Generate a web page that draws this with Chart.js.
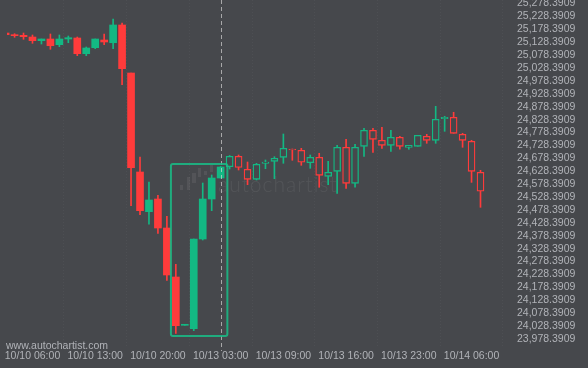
<!DOCTYPE html>
<html>
<head>
<meta charset="utf-8">
<script src="https://cdn.jsdelivr.net/npm/chart.js@4.4.1/dist/chart.umd.min.js"></script>
<style>
    html, body { margin: 0; padding: 0; background: #46484c; }
    #contenedor { width: 588px; height: 368px; position: relative; }
</style>
</head>
<body>
<div id="contenedor"><canvas id="grafico"></canvas></div>
<script>
// velas horarias (indice = posicion en el eje)
const aperturas = [25164.4, 25157.9, 25155.5, 25148.9, 25134.6, 25141.2, 25119.1, 25141.2, 25145.1, 25084.2,
    25107.5, 25137.3, 25126.8, 25195.5, 25009.4, 24625.7, 24471.8, 24521.0, 24408.6, 24218.7,
    24031.5, 24018.3, 24366.0, 24521.0, 24602.4, 24646.2, 24686.5, 24636.1, 24597.4, 24659.4,
    24667.1, 24682.6, 24714.8, 24709.8, 24661.7, 24682.6, 24609.0, 24628.4, 24721.4, 24581.9,
    24725.3, 24787.3, 24748.5, 24729.1, 24760.2, 24721.4, 24725.3, 24764.1, 24748.5, 24832.3,
    24837.7, 24771.8, 24744.7, 24624.5];
const maximos = [25164.4, 25161.7, 25164.4, 25156.7, 25141.2, 25160.6, 25156.7, 25152.8, 25148.9, 25110.2,
    25141.2, 25160.6, 25218.7, 25203.2, 25009.4, 24683.8, 24586.9, 24535.4, 24453.9, 24267.8,
    24033.4, 24366.0, 24583.0, 24614.1, 24647.0, 24689.6, 24691.6, 24664.4, 24659.4, 24672.2,
    24685.0, 24773.0, 24714.8, 24717.5, 24691.6, 24698.2, 24667.1, 24729.1, 24752.4, 24733.0,
    24795.0, 24795.0, 24799.0, 24787.3, 24764.1, 24729.1, 24767.9, 24771.8, 24880.3, 24841.6,
    24857.1, 24775.7, 24748.5, 24632.2];
const minimos = [25157.9, 25147.8, 25140.0, 25124.5, 25121.8, 25101.3, 25111.3, 25126.8, 25076.5, 25076.5,
    25103.6, 25119.1, 25103.6, 24964.0, 24495.1, 24460.2, 24423.0, 24388.1, 24205.9, 24000.5,
    24031.5, 24010.6, 24362.1, 24475.7, 24602.4, 24637.3, 24633.4, 24576.5, 24594.6, 24638.5,
    24599.7, 24659.4, 24671.0, 24651.6, 24640.0, 24566.4, 24576.5, 24543.1, 24562.5, 24566.4,
    24686.5, 24702.0, 24717.5, 24705.9, 24713.7, 24713.7, 24725.3, 24736.9, 24736.9, 24783.4,
    24775.7, 24721.4, 24585.5, 24488.8];
const cierres = [25157.9, 25154.0, 25150.1, 25134.6, 25141.2, 25115.2, 25141.2, 25146.2, 25084.2, 25106.3,
    25141.2, 25129.6, 25195.5, 25026.1, 24642.3, 24475.7, 24517.2, 24408.6, 24226.5, 24030.0,
    24033.4, 24366.0, 24521.0, 24602.4, 24645.1, 24686.5, 24643.1, 24597.4, 24655.5, 24664.4,
    24678.8, 24717.5, 24710.9, 24663.3, 24682.6, 24612.9, 24624.5, 24721.4, 24581.9, 24721.4,
    24787.3, 24752.4, 24729.1, 24760.2, 24725.3, 24729.1, 24767.9, 24748.5, 24830.0, 24837.7,
    24775.7, 24748.5, 24628.4, 24550.9];

const etiquetasX = ["10/10 06:00", "10/10 13:00", "10/10 20:00", "10/13 03:00",
    "10/13 09:00", "10/13 16:00", "10/13 23:00", "10/14 06:00"];
const posicionesX = [3, 10, 17, 24, 31, 38, 45, 52];

const baseY = 23978.3909;
const pasoY = 50;
const marcasY = [];
for (let i = 0; i <= 26; i++) marcasY.push(baseY + pasoY * i);

// patron detectado y linea de tiempo
const patron = { desde: 18.45, hasta: 24.75, bajo: 23990, alto: 24657 };
const lineaTiempo = 24;
const inicioHuecas = 25;

const fondo = "#46484c";
const rojo = "#ff3b3b";
const verde = "#13b883";
const gris = "#b1b3b8";

const colores = aperturas.map((o, i) => cierres[i] >= o ? verde : rojo);

const formato = new Intl.NumberFormat("en-US", { minimumFractionDigits: 4, maximumFractionDigits: 4 });

const extras = {
    id: "extras",
    beforeDatasetsDraw(chart) {
        const ctx = chart.ctx;
        ctx.save();
        // marca de agua
        ctx.fillStyle = "rgba(255,255,255,0.07)";
        [[180, 185, 3, 5], [187, 177, 3, 13], [192, 173, 4, 10], [198, 168, 3, 9], [204, 171, 3, 4], [210, 165, 3, 7]]
            .forEach(b => ctx.fillRect(b[0], b[1], b[2], b[3]));
        ctx.font = "300 21px Lato";
        ctx.letterSpacing = "1px";
        ctx.textBaseline = "alphabetic";
        ctx.fillText("autochartist", 218, 192);
        ctx.restore();
    },
    afterDatasetsDraw(chart) {
        const ctx = chart.ctx;
        const x = chart.scales.x, y = chart.scales.y;
        const area = chart.chartArea;
        ctx.save();
        // linea vertical discontinua
        const lx = Math.round(x.getPixelForValue(lineaTiempo)) + 0.5;
        ctx.strokeStyle = "rgba(210,210,210,0.7)";
        ctx.lineWidth = 1;
        ctx.setLineDash([4, 3]);
        ctx.beginPath();
        ctx.moveTo(lx, area.top);
        ctx.lineTo(lx, area.bottom + 5);
        ctx.stroke();
        ctx.setLineDash([]);
        // caja del patron
        const x1 = x.getPixelForValue(patron.desde), x2 = x.getPixelForValue(patron.hasta);
        const y1 = y.getPixelForValue(patron.alto), y2 = y.getPixelForValue(patron.bajo);
        ctx.strokeStyle = "rgba(25,190,135,0.85)";
        ctx.lineWidth = 2;
        ctx.beginPath();
        ctx.roundRect(x1, y1, x2 - x1, y2 - y1, 2);
        ctx.stroke();
        // web
        ctx.fillStyle = gris;
        ctx.font = "10.5px 'Liberation Sans'";
        ctx.textBaseline = "alphabetic";
        ctx.fillText("www.autochartist.com", 6, 348.5);
        ctx.restore();
    }
};

new Chart(document.getElementById("grafico"), {
    type: "bar",
    data: {
        datasets: [
            {
                label: "mechas",
                data: aperturas.map((o, i) => ({ x: i, y: [minimos[i], maximos[i]] })),
                backgroundColor: colores,
                barThickness: 1,
                grouped: false,
                order: 2,
                clip: 0,
            },
            {
                label: "cuerpos",
                data: aperturas.map((o, i) => ({ x: i, y: [o, cierres[i]] })),
                backgroundColor: colores.map((c, i) => i >= inicioHuecas ? fondo : c),
                borderColor: colores,
                borderWidth: aperturas.map((o, i) => i >= inicioHuecas ? 1.3 : 0),
                borderSkipped: false,
                barThickness: 7,
                minBarLength: 1,
                grouped: false,
                order: 1,
                clip: 0,
            },
        ],
    },
    options: {
        responsive: true,
        maintainAspectRatio: false,
        animation: false,
        layout: { padding: { left: 7, top: 0, right: 0, bottom: 0 } },
        plugins: { legend: { display: false }, tooltip: { enabled: false } },
        scales: {
            x: {
                type: "linear",
                position: "bottom",
                min: 0.156,
                max: 56.07,
                offset: false,
                grid: { color: "rgba(255,255,255,0.045)", drawTicks: false },
                border: { display: false, dash: [1, 2] },
                afterBuildTicks: (eje) => { eje.ticks = posicionesX.map(v => ({ value: v })); },
                afterFit: (eje) => { eje.height = 22; eje.paddingLeft = 0; eje.paddingRight = 0; },
                ticks: {
                    autoSkip: false,
                    maxRotation: 0,
                    padding: 4,
                    color: gris,
                    font: { family: "Liberation Sans", size: 10.5 },
                    callback: (v) => etiquetasX[posicionesX.indexOf(v)],
                },
            },
            y: {
                type: "linear",
                position: "right",
                min: 23951.26,
                max: 25292.35,
                grid: { display: false, drawTicks: false },
                border: { display: false },
                afterBuildTicks: (eje) => { eje.ticks = marcasY.map(v => ({ value: v })); },
                afterFit: (eje) => { eje.width = 80; eje.paddingTop = 0; eje.paddingBottom = 0; },
                ticks: {
                    autoSkip: false,
                    padding: 9,
                    color: gris,
                    font: { family: "Liberation Sans", size: 10.5 },
                    callback: (v) => formato.format(v),
                },
            },
        },
    },
    plugins: [extras],
});
</script>
</body>
</html>
